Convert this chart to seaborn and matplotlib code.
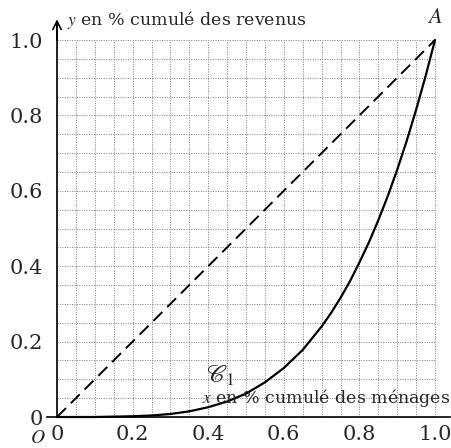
import numpy as np
import seaborn as sns
import matplotlib
matplotlib.use("Agg")
import matplotlib.pyplot as plt

# Values
x_menages = [0.00, 0.05, 0.10, 0.15, 0.20, 0.25, 0.30, 0.35, 0.40, 0.45, 0.50,
             0.55, 0.60, 0.65, 0.70, 0.725, 0.75, 0.775, 0.80, 0.825, 0.85,
             0.875, 0.90, 0.925, 0.95, 0.975, 1.00]
y_revenus = [0.000, 0.000, 0.000, 0.001, 0.002, 0.004, 0.008, 0.015, 0.026, 0.041, 0.062,
             0.092, 0.130, 0.178, 0.240, 0.276, 0.316, 0.360, 0.410, 0.463, 0.522,
             0.586, 0.656, 0.732, 0.815, 0.904, 1.000]
egalite_x = [0.0, 1.0]
egalite_y = [0.0, 1.0]
tick_values = [0.0, 0.2, 0.4, 0.6, 0.8, 1.0]
tick_labels = ["0", "0.2", "0.4", "0.6", "0.8", "1.0"]

sns.set_style("white")
plt.rcParams["font.family"] = ["DejaVu Serif"]
plt.rcParams["mathtext.fontset"] = "stix"

fig = plt.figure(figsize=(4.51, 4.48), dpi=100)
ax = fig.add_axes([0, 0, 1, 1])
ax.set_xlim(-0.1508, 1.0423)
ax.set_ylim(-0.0822, 1.1061)
ax.patch.set_alpha(0)

# dotted grid, every 0.05, only inside the unit square
grid = np.linspace(0, 1, 21)
ax.vlines(grid, 0, 1, colors="#7a7a7a", linestyles=(0, (1, 1.5)), lw=0.7, zorder=1)
ax.hlines(grid, 0, 1, colors="#7a7a7a", linestyles=(0, (1, 1.5)), lw=0.7, zorder=1)

# curves
sns.lineplot(x=egalite_x, y=egalite_y, ax=ax, color="black", lw=1.4,
             linestyle=(0, (6.5, 3.5)), zorder=3)
sns.lineplot(x=x_menages, y=y_revenus, ax=ax, color="black", lw=1.6, zorder=3)

# axes through the origin
for side in ["top", "right"]:
    ax.spines[side].set_visible(False)
ax.spines["left"].set_position(("data", 0))
ax.spines["bottom"].set_position(("data", 0))
ax.spines["left"].set_bounds(0, 1.045)
ax.spines["bottom"].set_bounds(-0.027, 1.04)
for side in ["left", "bottom"]:
    ax.spines[side].set_linewidth(1.2)
    ax.spines[side].set_color("black")

arrow = dict(arrowstyle="->,head_length=0.5,head_width=0.25", color="black",
             lw=1.2, mutation_scale=12, shrinkA=0, shrinkB=0)
ax.annotate("", xy=(0, 1.055), xytext=(0, 1.0), arrowprops=arrow)
ax.annotate("", xy=(1.045, 0), xytext=(1.0, 0), arrowprops=arrow)

ax.set_xticks(tick_values)
ax.set_xticklabels(tick_labels)
ax.set_yticks(tick_values)
ax.set_yticklabels(tick_labels)
ax.tick_params(axis="x", direction="in", length=7.2, width=1, pad=6, labelsize=15)
ax.tick_params(axis="y", direction="inout", length=15.8, width=1, pad=2, labelsize=15)
ax.set_xlabel("")
ax.set_ylabel("")

# annotations
ax.text(0.027, 1.053, r"$y$ en % cumulé des revenus", fontsize=12.5,
        ha="left", va="center")
ax.text(0.383, 0.05, r"$x$ en % cumulé des ménages", fontsize=12.5,
        ha="left", va="center")
ax.text(1.0, 1.06, r"$A$", fontsize=16, ha="center", va="center")
ax.text(-0.05, -0.056, r"$O$", fontsize=14, ha="center", va="center")
ax.text(0.432, 0.11, r"$\mathscr{C}_1$", fontsize=18, ha="center", va="center")

fig.savefig("out.png", dpi=100)
